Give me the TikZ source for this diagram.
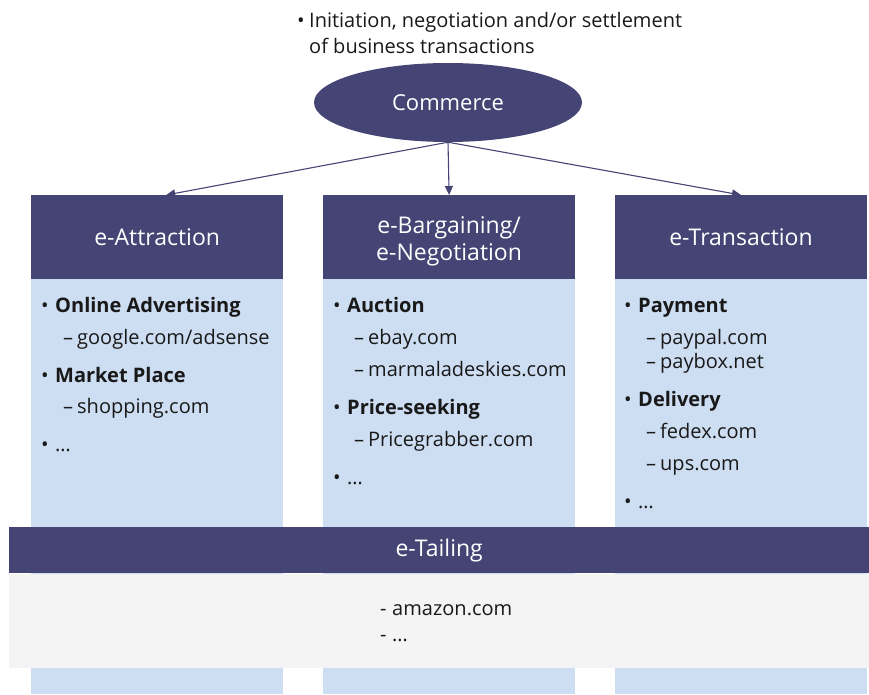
\documentclass[tikz,border=0pt]{standalone}
\usepackage{fontspec}
\setmainfont{Open Sans}
\usepackage{tikz}
\usetikzlibrary{shapes.geometric, arrows.meta, positioning}

\definecolor{navy}{RGB}{68,68,117}
\definecolor{paleblue}{RGB}{205,221,242}
\definecolor{palegray}{RGB}{244,244,244}
\definecolor{ink}{RGB}{25,25,25}

\begin{document}
\begin{tikzpicture}[
  x=1pt, y=-1pt,
  node distance=0pt and 39.5pt,
  column/.style={rectangle, fill=paleblue, minimum width=252pt, minimum height=499pt, inner sep=0pt, anchor=north west},
  header/.style={rectangle, fill=navy, text=white, minimum width=252pt, minimum height=84pt, inner sep=0pt, align=center, font=\fontsize{23}{27}\selectfont},
  lead/.style={anchor=base west, inner sep=0pt, text=ink, font=\fontsize{20}{24}\selectfont\bfseries},
  sub/.style={anchor=base west, inner sep=0pt, text=ink, font=\fontsize{20}{24}\selectfont},
  arr/.style={-{Triangle[length=9pt, width=8pt]}, line width=1.1pt, draw=navy},
]
\useasboundingbox (0,0) rectangle (869,694);

% columns and their headers
\node[column] (col1) at (31,195) {};
\node[column, right=of col1] (col2) {};
\node[column, right=of col2] (col3) {};
\node[header, below=0pt of col1.north] (attraction) {e-Attraction};
\node[header, below=0pt of col2.north] (bargaining) {\rule{0pt}{25pt}e-Bargaining/\\e-Negotiation};
\node[header, below=0pt of col3.north] (transaction) {e-Transaction};

% commerce on top
\node[ellipse, fill=navy, text=white, minimum width=268pt, minimum height=79pt, font=\fontsize{22}{26}\selectfont] (commerce) at (448,102.5) {Commerce};
\node[anchor=base west, inner sep=0pt, align=left, text=ink, font=\fontsize{20}{26}\selectfont] (intro) at (297,53)
  {\makebox[12pt][l]{\textbullet}Initiation, negotiation and/or settlement\\\hspace*{12pt}of business transactions};

\draw[arr] (commerce.south) -- ([xshift=9pt]attraction.north);
\draw[arr] (commerce.south) -- (bargaining.north);
\draw[arr] (commerce.south) -- (transaction.north);

% e-Attraction list
\node[lead] (advert) at (41,312) {\makebox[14pt][l]{\mdseries\textbullet}Online Advertising};
\node[sub] (google) at (63,344) {\makebox[14pt][l]{–}google.com/adsense};
\node[lead] (market) at (41,382) {\makebox[14pt][l]{\mdseries\textbullet}Market Place};
\node[sub] (shopping) at (63,413) {\makebox[14pt][l]{–}shopping.com};
\node[sub] (moreatt) at (41,451) {\makebox[14pt][l]{\textbullet}…};

% e-Bargaining list
\node[lead] (auction) at (333,312) {\makebox[14pt][l]{\mdseries\textbullet}Auction};
\node[sub] (ebay) at (354,344) {\makebox[14pt][l]{–}ebay.com};
\node[sub] (marmalade) at (354,376) {\makebox[14pt][l]{–}marmaladeskies.com};
\node[lead] (seeking) at (333,414) {\makebox[14pt][l]{\mdseries\textbullet}Price-seeking};
\node[sub] (grabber) at (354,446) {\makebox[14pt][l]{–}Pricegrabber.com};
\node[sub] (morebarg) at (333,484) {\makebox[14pt][l]{\textbullet}…};

% e-Transaction list
\node[lead] (payment) at (624,312) {\makebox[14pt][l]{\mdseries\textbullet}Payment};
\node[sub] (paypal) at (646,344) {\makebox[14pt][l]{–}paypal.com};
\node[sub] (paybox) at (646,368) {\makebox[14pt][l]{–}paybox.net};
\node[lead] (delivery) at (624,406) {\makebox[14pt][l]{\mdseries\textbullet}Delivery};
\node[sub] (fedex) at (646,438) {\makebox[14pt][l]{–}fedex.com};
\node[sub] (ups) at (646,470) {\makebox[14pt][l]{–}ups.com};
\node[sub] (moretrans) at (624,508) {\makebox[14pt][l]{\textbullet}…};

% e-Tailing across the columns
\node[rectangle, fill=navy, text=white, anchor=north west, minimum width=860pt, minimum height=46pt, inner sep=0pt, font=\fontsize{23}{27}\selectfont] (tailing) at (9,527) {e-Tailing};
\node[rectangle, fill=palegray, minimum width=860pt, minimum height=94pt, inner sep=0pt, below=0pt of tailing] (tailbox) {};
\node[sub] (amazon) at (380,615) {\makebox[12pt][l]{-}amazon.com};
\node[sub] (moretail) at (380,641) {\makebox[12pt][l]{-}…};
\end{tikzpicture}
\end{document}
